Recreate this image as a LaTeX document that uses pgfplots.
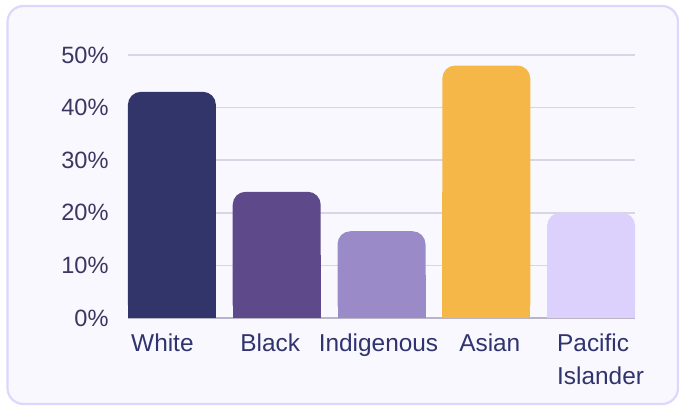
\documentclass[border=0pt]{standalone}
\usepackage{pgfplots}
\pgfplotsset{compat=1.18}
\usepackage{fontspec}
\setmainfont{Liberation Sans}
\definecolor{cWhite}{HTML}{313569}
\definecolor{cBlack}{HTML}{5E4A8B}
\definecolor{cIndig}{HTML}{9A8BC8}
\definecolor{cAsian}{HTML}{F5B748}
\definecolor{cPacif}{HTML}{DCD0FC}
\definecolor{bgcol}{HTML}{F9F8FF}
\definecolor{bordercol}{HTML}{DDD6FD}
\definecolor{gridcol}{HTML}{D9D5E4}
\definecolor{basecol}{HTML}{B9B5C8}
\definecolor{xlab}{HTML}{2F336E}
\definecolor{ylab}{HTML}{3C3760}
\newcommand{\roundbar}[3]{%
  \addplot[ybar, bar width=44pt, bar shift=0pt, draw=none, fill=#3, rounded corners=6.5pt] coordinates {(#1,#2)};
  \addplot[ybar, bar width=44pt, bar shift=0pt, draw=none, fill=#3, y filter/.expression={y/2}] coordinates {(#1,#2)};
}
\begin{document}
\begin{tikzpicture}[x=1pt,y=1pt]
\useasboundingbox (0,0) rectangle (339.5,203);
\draw[draw=bordercol, line width=1.1pt, fill=bgcol, rounded corners=8pt] (3.75,1) rectangle (339,200);
\begin{axis}[
  at={(64pt,44pt)}, anchor=south west,
  scale only axis, width=253.5pt, height=131.5pt,
  xmin=-0.419, xmax=4.419, ymin=0, ymax=50,
  axis line style={draw=none},
  major tick length=0pt,
  xtick={0,1,2,3,4},
  xticklabels={\hspace*{-9.5pt}White, \hspace*{-6.5pt}Black, \hspace*{-3pt}Indigenous, \hspace*{3.5pt}Asian, \hspace*{9.5pt}Pacific\\\hspace*{9.5pt}Islander},
  xticklabel style={font=\fontsize{12.2}{16.5}\selectfont, text=xlab, anchor=north, inner sep=0pt, yshift=-7.5pt, align=left},
  ytick={0,10,20,30,40,50},
  yticklabels={0\%,10\%,20\%,30\%,40\%,50\%},
  yticklabel style={font=\fontsize{11.8}{14}\selectfont, text=ylab, anchor=east, inner sep=0pt, xshift=-9.5pt},
  ymajorgrids, major grid style={draw=gridcol, line width=0.75pt},
  extra y ticks={0}, extra y tick labels={},
  extra y tick style={major grid style={draw=basecol, line width=0.9pt}},
  clip=false,
]
\roundbar{0}{43}{cWhite}
\roundbar{1}{24}{cBlack}
\roundbar{2}{16.5}{cIndig}
\roundbar{3}{48}{cAsian}
\roundbar{4}{20}{cPacif}
\end{axis}
\end{tikzpicture}
\end{document}
